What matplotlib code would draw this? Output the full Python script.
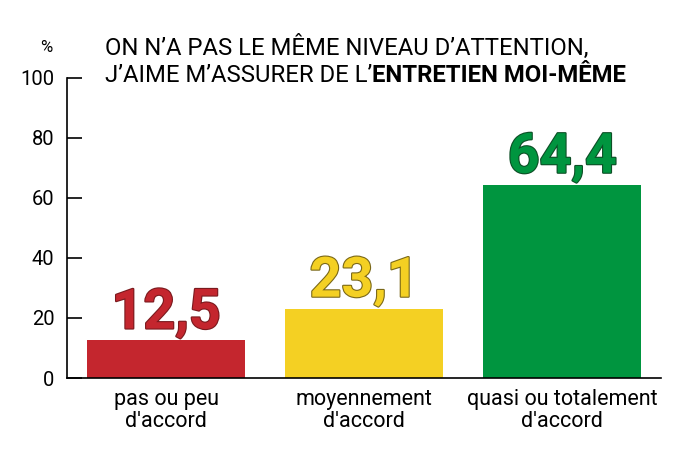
import matplotlib
matplotlib.use("Agg")
import matplotlib.pyplot as plt
import matplotlib.patheffects as pe

categories = ["pas ou peu\nd'accord", "moyennement\nd'accord", "quasi ou totalement\nd'accord"]
values = [12.5, 23.1, 64.4]
value_labels = ["12,5", "23,1", "64,4"]
colors = ["#C4262E", "#F4D023", "#00953F"]
edge_colors = ["#7a1a1e", "#7a6818", "#0d4f26"]
yticks = [0, 20, 40, 60, 80, 100]

plt.rcParams['font.family'] = ['Roboto', 'DejaVu Sans']
title_size = 17.2

fig = plt.figure(figsize=(7, 4.69), dpi=100)
ax = fig.add_axes([0.0957, 0.194, 0.849, 0.64])

x = range(len(values))
ax.bar(x, values, width=0.8, color=colors)
ax.set_xlim(-0.5, 2.5)
ax.set_ylim(0, 100)
ax.set_yticks(yticks)
ax.set_yticklabels([str(t) for t in yticks], fontsize=14.5)
ax.set_xticks(list(x))
ax.set_xticklabels(categories, fontsize=15.5, linespacing=1.05)
ax.tick_params(axis='x', length=0, pad=8)
ax.tick_params(axis='y', length=10.5, width=1.2, direction='in', pad=9)
for s in ['top', 'right']:
    ax.spines[s].set_visible(False)
ax.spines['left'].set_linewidth(1.2)
ax.spines['bottom'].set_linewidth(1.2)

for i, (v, lab) in enumerate(zip(values, value_labels)):
    ax.text(i, v + 4, lab, ha='center', va='baseline', fontsize=40,
            fontweight='bold', color=colors[i],
            path_effects=[pe.withStroke(linewidth=1.6, foreground=edge_colors[i])])

fig.text(40/700, 1 - 47/469, "%", fontsize=12, ha='left', va='center')
t1 = fig.text(105/700, 1 - 47/469, "ON N\u2019A PAS LE MÊME NIVEAU D\u2019ATTENTION,",
              fontsize=title_size, ha='left', va='center')
t2 = fig.text(105/700, 1 - 76/469, "J\u2019AIME M\u2019ASSURER DE L\u2019",
              fontsize=title_size, ha='left', va='center')
ax.annotate("ENTRETIEN MOI-MÊME", xy=(1, 0.5), xycoords=t2, ha='left', va='center',
            fontsize=title_size, fontweight='bold', annotation_clip=False)

fig.savefig("out.png", dpi=100)
